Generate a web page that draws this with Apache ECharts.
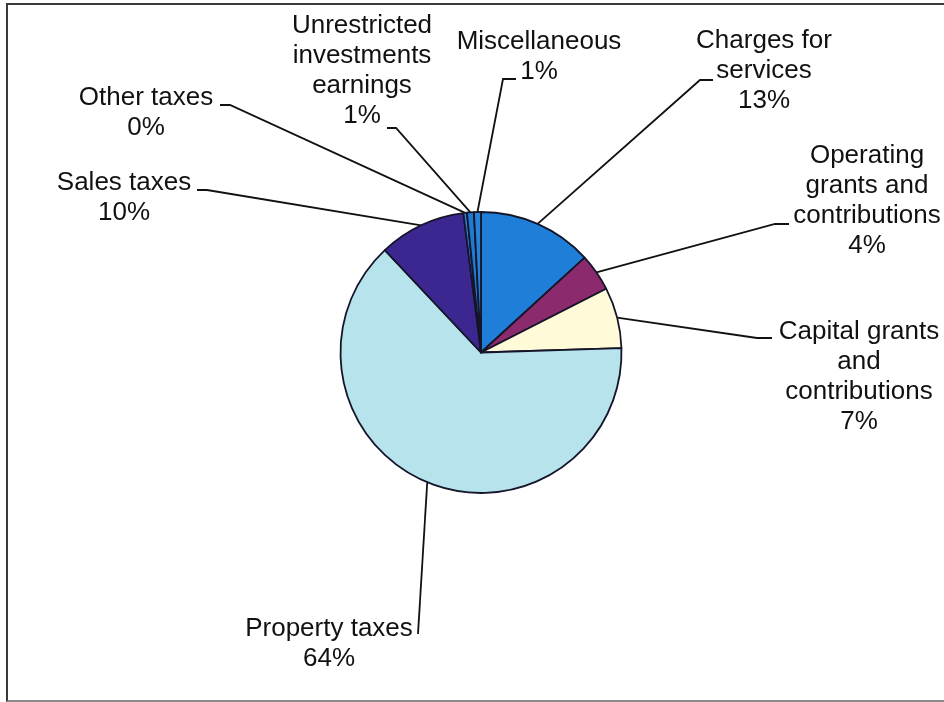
<!DOCTYPE html>
<html>
<head>
<meta charset="utf-8">
<script src="https://cdn.jsdelivr.net/npm/echarts@6/dist/echarts.min.js"></script>
<style>
  html, body { margin: 0; padding: 0; background: #fff; }
  #frame { position: absolute; left: 6px; top: 3px; width: 950px; height: 695px;
           border-left: 2px solid #3a3a3a; border-top: 2px solid #3a3a3a; border-bottom: 2px solid #8a8a8a; }
  #chart { position: absolute; left: 0; top: 0; width: 944px; height: 702px; }
</style>
</head>
<body>
<div id="frame"></div>
<div id="chart"></div>
<script>
// ---- data ----
const categories = [
  'Charges for\nservices',
  'Operating\ngrants and\ncontributions',
  'Capital grants\nand\ncontributions',
  'Property taxes',
  'Sales taxes',
  'Other taxes',
  'Unrestricted\ninvestments\nearnings',
  'Miscellaneous'
];
const shares = [13.2, 4.3, 7.0, 63.5, 10.0, 0.4, 0.8, 0.8];

// ---- styles / layout (not data) ----
const sliceColors = ['#1f7fd8', '#8b2a6c', '#fffad8', '#b6e3ec', '#3c2690', '#2a84dc', '#1f7ad2', '#2582da'];
// label block: center x, top y; leader bend point and end point near the label
const labelLayoutTable = [
  { x: 764, y: 26,  b: [700, 80],  t: [713, 80] },
  { x: 867, y: 141, b: [775, 224], t: [789, 224] },
  { x: 859, y: 317, b: [757, 338], t: [772, 338] },
  { x: 329, y: 614, b: [418, 634], t: [418, 634] },
  { x: 124, y: 168, b: [207, 190], t: [197, 190] },
  { x: 146, y: 83,  b: [230, 105], t: [220, 105] },
  { x: 362, y: 11,  b: [396, 128], t: [387, 128] },
  { x: 539, y: 27,  b: [503, 79],  t: [516, 79] }
];

const chart = echarts.init(document.getElementById('chart'), null, { renderer: 'canvas' });
chart.setOption({
  animation: false,
  backgroundColor: 'transparent',
  series: [{
    type: 'pie',
    center: [481, 352.5],
    radius: 140.5,
    startAngle: 90,
    clockwise: true,
    percentPrecision: 0,
    avoidLabelOverlap: false,
    minShowLabelAngle: 0,
    data: categories.map((c, i) => ({
      name: c, value: shares[i],
      itemStyle: { color: sliceColors[i] }
    })),
    itemStyle: { borderColor: '#15152a', borderWidth: 1.8 },
    emphasis: { disabled: true },
    label: {
      show: true,
      position: 'outside',
      formatter: p => p.name + '\n' + p.percent + '%',
      fontFamily: 'Liberation Sans, Arial, sans-serif',
      fontSize: 26,
      lineHeight: 30,
      color: '#111111',
      align: 'center'
    },
    labelLine: {
      show: true,
      length: 20,
      length2: 10,
      lineStyle: { color: '#111', width: 1.8 }
    },
    labelLayout: function (params) {
      const L = labelLayoutTable[params.dataIndex];
      const out = { x: L.x, y: L.y, align: 'center', verticalAlign: 'top' };
      if (params.labelLinePoints && params.labelLinePoints.length) {
        out.labelLinePoints = [params.labelLinePoints[0].slice(), L.b, L.t];
      }
      return out;
    }
  }]
});
</script>
</body>
</html>
